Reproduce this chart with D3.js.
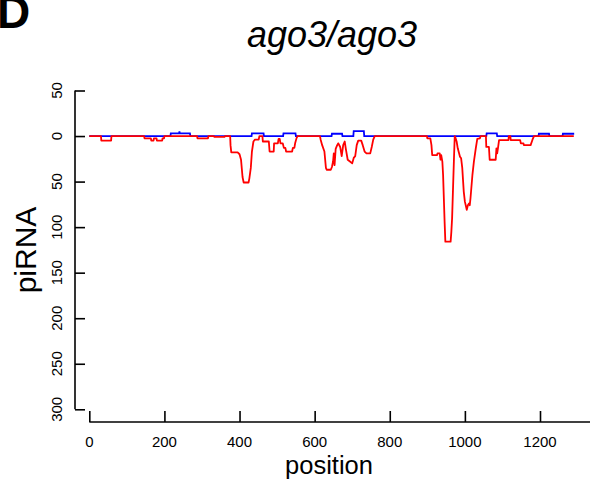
<!DOCTYPE html>
<html>
<head>
<meta charset="utf-8">
<script src="https://cdn.jsdelivr.net/npm/d3@7"></script>
<style>
  html, body { margin: 0; padding: 0; background: #ffffff; }
  svg { display: block; }
  text { font-family: "Liberation Sans", Arial, Helvetica, sans-serif; fill: #000; }
</style>
</head>
<body>
<script>
// ---- data (position, piRNA count); sense = positive (blue), antisense = negative (red)
const panelLetter = "D";
const titleText = "ago3/ago3";
const xLabel = "position";
const yLabel = "piRNA";

const xTicks = [0, 200, 400, 600, 800, 1000, 1200, 1400];
const xTickLabels = [0, 200, 400, 600, 800, 1000, 1200];
const yTicks = [50, 0, -50, -100, -150, -200, -250, -300];

const blueSteps = [
  [0,0],[216,0],[217,3],[239,3],[240,5],[241,3],[268,3],[269,0],
  [432,0],[433,3],[464,3],[465,0],[516,0],[517,3],[549,3],[550,0],
  [645,0],[646,2.5],[673,2.5],[674,0],[703,0],[704,5.5],[731,5.5],[732,0],
  [1057,0],[1058,3],[1085,3],[1086,0],[1196,0],[1197,2.5],[1224,2.5],[1225,0],
  [1260,0],[1261,2.5],[1291,2.5]
];

const redSteps = [
  [0,0],[31,0],[32,-5],[58,-5],[59,0],[146,0],[147,-2.5],[164,-2.5],[165,-5],[171,-5],
  [172,-2.5],[179,-2.5],[180,-5],[194,-5],[195,-2.5],[199,-2.5],[200,0],[287,0],[288,-2.5],
  [316,-2.5],[317,0],[332,0],[333,-1],[360,-1],[361,0],[375,0],[376,-10],[378,-18],[395,-18],
  [400,-20],[404,-26],[408,-45],[411,-51],[424,-51],[426,-47],[430,-35],[433,-17],[437,-6],
  [441,-4],[451,-4],[453,0],[461,0],[462,-6],[478,-6],[480,-17],[491,-17],[492,-8],[502,-8],
  [504,-3],[507,-3],[509,-8],[515,-8],[518,-13],[522,-13],[524,-17],[540,-17],[542,-13],
  [546,-13],[548,-8],[552,-2],[555,0],[614,0],[616,-4],[620,-10],[626,-17],[630,-35],
  [632,-37],[643,-37],[646,-34],[649,-28],[651,-19],[653,-32],[656,-14],[660,-10],[663,-8],
  [668,-12],[672,-22],[676,-10],[680,-6],[683,-14],[688,-26],[694,-28],[700,-30],[704,-24],
  [708,-22],[712,-10],[716,-5],[724,-5],[728,-10],[733,-17],[738,-19],[748,-19],[752,-12],
  [756,-4],[760,0],[899,0],[900,-2.5],[908,-2.5],[911,-10],[913,-21],[926,-21],[927,-19],
  [933,-19],[935,-26],[937,-21],[940,-28],[942,-43],[946,-94],[948,-116],[962,-116],
  [964,-105],[966,-90],[969,-50],[971,-24],[973,0],[975,-2],[978,-6],[981,-13.5],
  [987,-22.7],[990,-24.5],[993,-35],[997,-61],[1000,-72],[1005,-81],[1008,-76],[1011,-74],
  [1013,-76],[1015,-68],[1020,-43],[1024,-28],[1029,-13.5],[1033,-3],[1040,-2.5],[1042,0],
  [1056,0],[1057,-12],[1064,-12],[1066,-26],[1082,-26],[1084,-13.5],[1086,-19],[1088,-13.5],
  [1091,-4.4],[1116,-4.4],[1117,0],[1121,0],[1122,-4.4],[1147,-4.4],[1149,-8],[1156,-8],
  [1157,-10],[1175,-10],[1180,-4],[1184,0],[1290,0]
];

// ---- layout
const W = 590, H = 482;
const svg = d3.select("body").append("svg").attr("width", W).attr("height", H);

const x = d3.scaleLinear().domain([0, 1200]).range([89.3, 540]);
const y = d3.scaleLinear().domain([50, -300]).range([90.5, 409.3]);

// y axis (inward ticks)
const yAxisG = svg.append("g").attr("transform", "translate(75,0)")
  .call(d3.axisLeft(y).tickValues(yTicks).tickSize(-10).tickSizeOuter(0).tickFormat(""));
yAxisG.selectAll("path, line").attr("stroke", "#000").attr("stroke-width", 1.6);
yAxisG.select(".domain").attr("d", `M0,${y(yTicks[0])}V${y(yTicks[yTicks.length-1])}`);

svg.append("g").selectAll("text").data(yTicks).join("text")
  .attr("transform", d => `translate(62,${y(d)}) rotate(-90)`)
  .attr("text-anchor", "middle")
  .attr("font-size", 15)
  .text(d => Math.abs(d));

// x axis (inward ticks)
const xAxisG = svg.append("g").attr("transform", "translate(0,422)")
  .call(d3.axisBottom(x).tickValues(xTicks).tickSize(-11).tickSizeOuter(0).tickFormat(""));
xAxisG.selectAll("path, line").attr("stroke", "#000").attr("stroke-width", 1.6);
xAxisG.select(".domain").attr("d", `M${x(xTicks[0])},0H${x(xTicks[xTicks.length-1])}`);

svg.append("g").selectAll("text").data(xTickLabels).join("text")
  .attr("x", d => x(d)).attr("y", 446.5)
  .attr("text-anchor", "middle")
  .attr("font-size", 15)
  .text(d => d);

// series
const line = d3.line().x(d => x(d[0])).y(d => y(d[1]));
svg.append("path").datum(blueSteps).attr("d", line)
  .attr("fill", "none").attr("stroke", "#0000ff").attr("stroke-width", 1.8);
svg.append("path").datum(redSteps).attr("d", line)
  .attr("fill", "none").attr("stroke", "#ff0000").attr("stroke-width", 1.8)
  .attr("stroke-linejoin", "round");

// labels
svg.append("text").attr("x", 332).attr("y", 47)
  .attr("text-anchor", "middle").attr("font-size", 36).attr("font-style", "italic")
  .text(titleText);
svg.append("text").attr("x", -3).attr("y", 28)
  .attr("font-size", 46).attr("font-weight", "bold")
  .text(panelLetter);
svg.append("text").attr("x", 329).attr("y", 474)
  .attr("text-anchor", "middle").attr("font-size", 25.5)
  .text(xLabel);
svg.append("text").attr("transform", "translate(36,250) rotate(-90)")
  .attr("text-anchor", "middle").attr("font-size", 30)
  .text(yLabel);
</script>
</body>
</html>
